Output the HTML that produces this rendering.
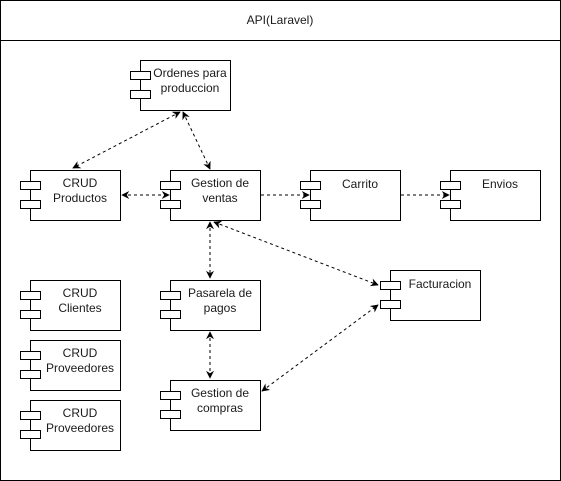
<!DOCTYPE html>
<html><head><meta charset="utf-8"><style>
html,body{margin:0;padding:0;background:#fff;}
svg{display:block;}
text{font-family:"Liberation Sans",Arial,sans-serif;font-size:12px;fill:#1a1a1a;}
</style></head><body>
<svg width="561" height="481" viewBox="0 0 561 481" xmlns="http://www.w3.org/2000/svg">
<defs>
<marker id="a" viewBox="0 0 10 10" refX="9" refY="5" markerWidth="8" markerHeight="8" orient="auto-start-reverse" markerUnits="userSpaceOnUse">
<path d="M0,0 L10,5 L0,10 L3,5 Z" fill="#000"/>
</marker>
</defs>
<rect x="0.5" y="0.5" width="560" height="480" fill="#fff" stroke="#000"/>
<line x1="0" y1="40.5" x2="561" y2="40.5" stroke="#000"/>
<text x="280" y="24" text-anchor="middle">API(Laravel)</text>

<g fill="#fff" stroke="#000">
<!-- boxes: x,y -->
<rect x="140.5" y="60.5" width="90" height="50"/><rect x="130.5" y="71.5" width="20" height="8"/><rect x="130.5" y="90.5" width="20" height="8"/>
<rect x="30.5" y="170.5" width="90" height="50"/><rect x="20.5" y="181.5" width="20" height="8"/><rect x="20.5" y="200.5" width="20" height="8"/>
<rect x="170.5" y="170.5" width="90" height="50"/><rect x="160.5" y="181.5" width="20" height="8"/><rect x="160.5" y="200.5" width="20" height="8"/>
<rect x="310.5" y="170.5" width="90" height="50"/><rect x="300.5" y="181.5" width="20" height="8"/><rect x="300.5" y="200.5" width="20" height="8"/>
<rect x="450.5" y="170.5" width="90" height="50"/><rect x="440.5" y="181.5" width="20" height="8"/><rect x="440.5" y="200.5" width="20" height="8"/>
<rect x="390.5" y="270.5" width="90" height="50"/><rect x="380.5" y="281.5" width="20" height="8"/><rect x="380.5" y="300.5" width="20" height="8"/>
<rect x="170.5" y="280.5" width="90" height="50"/><rect x="160.5" y="291.5" width="20" height="8"/><rect x="160.5" y="310.5" width="20" height="8"/>
<rect x="170.5" y="380.5" width="90" height="50"/><rect x="160.5" y="391.5" width="20" height="8"/><rect x="160.5" y="410.5" width="20" height="8"/>
<rect x="30.5" y="280.5" width="90" height="50"/><rect x="20.5" y="291.5" width="20" height="8"/><rect x="20.5" y="310.5" width="20" height="8"/>
<rect x="30.5" y="340.5" width="90" height="50"/><rect x="20.5" y="351.5" width="20" height="8"/><rect x="20.5" y="370.5" width="20" height="8"/>
<rect x="30.5" y="400.5" width="90" height="50"/><rect x="20.5" y="411.5" width="20" height="8"/><rect x="20.5" y="430.5" width="20" height="8"/>
</g>

<g text-anchor="middle">
<text x="190" y="77">Ordenes para</text><text x="190" y="92">produccion</text>
<text x="80" y="187">CRUD</text><text x="80" y="202">Productos</text>
<text x="220" y="187">Gestion de</text><text x="220" y="202">ventas</text>
<text x="360" y="188">Carrito</text>
<text x="500" y="188">Envios</text>
<text x="440" y="288">Facturacion</text>
<text x="220" y="297">Pasarela de</text><text x="220" y="312">pagos</text>
<text x="220" y="397">Gestion de</text><text x="220" y="412">compras</text>
<text x="80" y="297">CRUD</text><text x="80" y="312">Clientes</text>
<text x="80" y="357">CRUD</text><text x="80" y="372">Proveedores</text>
<text x="80" y="417">CRUD</text><text x="80" y="432">Proveedores</text>
</g>

<g stroke="#000" stroke-dasharray="3,3" fill="none">
<line x1="180" y1="112" x2="73" y2="168" marker-start="url(#a)" marker-end="url(#a)"/>
<line x1="183" y1="112" x2="210" y2="169" marker-start="url(#a)" marker-end="url(#a)"/>
<line x1="122" y1="195" x2="169" y2="195" marker-start="url(#a)" marker-end="url(#a)"/>
<line x1="261" y1="195" x2="309" y2="195" marker-end="url(#a)"/>
<line x1="401" y1="195" x2="449" y2="195" marker-end="url(#a)"/>
<line x1="214" y1="222" x2="378" y2="285" marker-start="url(#a)" marker-end="url(#a)"/>
<line x1="210" y1="222" x2="210" y2="278" marker-start="url(#a)" marker-end="url(#a)"/>
<line x1="210" y1="332" x2="210" y2="378" marker-start="url(#a)" marker-end="url(#a)"/>
<line x1="262" y1="391" x2="378" y2="305" marker-start="url(#a)" marker-end="url(#a)"/>
</g>
</svg>
</body></html>
